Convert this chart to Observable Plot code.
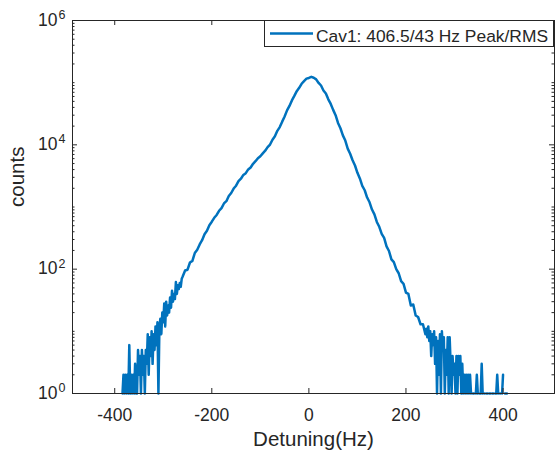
<!DOCTYPE html>
<html><head><meta charset="utf-8">
<script src="https://cdn.jsdelivr.net/npm/d3@7"></script>
<script src="https://cdn.jsdelivr.net/npm/@observablehq/plot@0.6"></script>
<style>body{margin:0;background:#fff} svg{display:block}</style>
</head><body><div id="chart"></div>
<script>
// Histogram bins (Hz) and counts
const leftTailStart = -384, leftTailStep = 2;
const leftTailCounts = [1,2,1,2,1,2,1,6,1,2, 1,2,1,3,1,1,5,2,4,1, 5,2,4,1,5,3,9,2,8,4, 10,3,9,5,12,6,14,1,11,16, 9,20,14,28,12,30,18,26,20,35, 24,45,30,40,33,62,40,55,48,60, 52,70];
const bodyStart = -260, bodyStep = 5;
const bodyCounts = [76,95,98,128,136,182,205,250,292,365,
  415,510,580,670,745,870,960,1140,1240,1500,
  1680,1980,2200,2600,2850,3280,3500,4020,4330,4950,
  5450,6100,6550,7300,8050,9200,10100,12100,13700,16800,
  19300,23600,28500,35800,42300,51800,61200,73000,82500,96000,
  106000,116000,119000,124000,120000,113000,99000,90000,75000,67000,
  54000,45500,36500,30000,22500,18500,14200,11700,8700,7200,
  5650,4650,3550,2880,2190,1860,1420,1190,910,760,
  575,480,370,318,232,196,144,130,100,86,
  64,58,42,40,26,27,18,17,13,13,
  9];
const rightTailStart = 242, rightTailStep = 2;
const rightTailCounts = [11,8,12,7,10,4,9,6,10,3, 8,1,7,2,9,1,10,5,8,1, 5,2,8,1,8,3,1,4,2,3,
  1,4,1,4,2,4,1,3,1,2, 1,2,1,2,1,2,1,0,1,1, 0,1,2,1,0,1,1,3,1,0,
  1,0,1,1,0,1,1,0,1,1, 0,1,1,2,1,0,1,0,1,2, 0,1,1,1];

const xTicks = [-400, -200, 0, 200, 400];
const yTicks = [1, 1e2, 1e4, 1e6];
const yTickBase = "10";
const yTickExp = ["0", "2", "4", "6"];
const seriesLabel = "Cav1: 406.5/43 Hz Peak/RMS";
const xLabel = "Detuning(Hz)";
const yLabel = "counts";

function bins(start, step, counts) {
  return counts.map((c, i) => ({x: start + i * step, count: c > 0 ? c : NaN}));
}
const data = [
  ...bins(leftTailStart, leftTailStep, leftTailCounts),
  ...bins(bodyStart, bodyStep, bodyCounts),
  ...bins(rightTailStart, rightTailStep, rightTailCounts)
];

// minor log ticks (tick positions only)
const yMinor = [];
for (let k = 0; k < 6; k++) for (let m = 2; m <= 10; m++) {
  const v = m * Math.pow(10, k);
  if (!yTicks.includes(v)) yMinor.push(v);
}

const W = 556, H = 453, mL = 72, mR = 2, mT = 20, mB = 60;
const pw = W - mL - mR, ph = H - mT - mB;
const axisColor = "#262626", lineColor = "#0072BD";
const tickFont = 17.5, labelFont = 20.5, legendFont = 17.4;

const chart = Plot.plot({
  width: W, height: H,
  marginLeft: mL, marginRight: mR, marginTop: mT, marginBottom: mB,
  style: {fontFamily: "'Liberation Sans', Arial, sans-serif", fontSize: "17px", color: axisColor, background: "white", overflow: "visible"},
  x: {domain: [-487, 506]},
  y: {type: "log", domain: [1, 1e6], axis: null},
  marks: [
    Plot.line(data, {x: "x", y: "count", stroke: lineColor, strokeWidth: 2.5}),
    Plot.tickX(xTicks, {x: d => d, stroke: axisColor, insetTop: ph - 5}),
    Plot.tickX(xTicks, {x: d => d, stroke: axisColor, insetBottom: ph - 5}),
    Plot.tickY(yTicks, {y: d => d, stroke: axisColor, insetRight: pw - 5}),
    Plot.tickY(yTicks, {y: d => d, stroke: axisColor, insetLeft: pw - 5}),
    Plot.tickY(yMinor, {y: d => d, stroke: axisColor, insetRight: pw - 2.5}),
    Plot.tickY(yMinor, {y: d => d, stroke: axisColor, insetLeft: pw - 2.5}),
    Plot.frame({stroke: axisColor}),
    Plot.axisX(xTicks, {tickSize: 0, tickPadding: 15, tickFormat: d => String(d), label: null, fontSize: tickFont, fill: axisColor}),
    Plot.text(yTicks, {y: d => d, text: () => yTickBase, frameAnchor: "left", textAnchor: "end", lineAnchor: "bottom", dx: -15, dy: 5, fontSize: tickFont, fill: axisColor}),
    Plot.text(yTicks, {y: d => d, text: (d, i) => yTickExp[i], frameAnchor: "left", textAnchor: "end", lineAnchor: "bottom", dx: -7, dy: -1.5, fontSize: 12.5, fill: axisColor}),
    Plot.text([xLabel], {frameAnchor: "bottom", lineAnchor: "bottom", dy: 52, fontSize: labelFont, fill: axisColor}),
    Plot.text([yLabel], {frameAnchor: "left", rotate: -90, lineAnchor: "bottom", dx: -49, fontSize: labelFont, fill: axisColor})
  ]
});

// Legend (MATLAB-style box, top-right inside the axes)
const svg = d3.select(chart);
const lg = svg.append("g");
lg.append("rect").attr("x", 264.5).attr("y", 20.5).attr("width", 289).attr("height", 26)
  .attr("fill", "white").attr("stroke", axisColor).attr("stroke-width", 1);
lg.append("line").attr("x1", 270).attr("x2", 313).attr("y1", 33.5).attr("y2", 33.5)
  .attr("stroke", lineColor).attr("stroke-width", 2.5);
lg.append("text").attr("x", 316).attr("y", 41.5).attr("fill", axisColor)
  .attr("text-anchor", "start").attr("font-size", legendFont).text(seriesLabel);

document.getElementById("chart").append(chart);
</script>
</body></html>
